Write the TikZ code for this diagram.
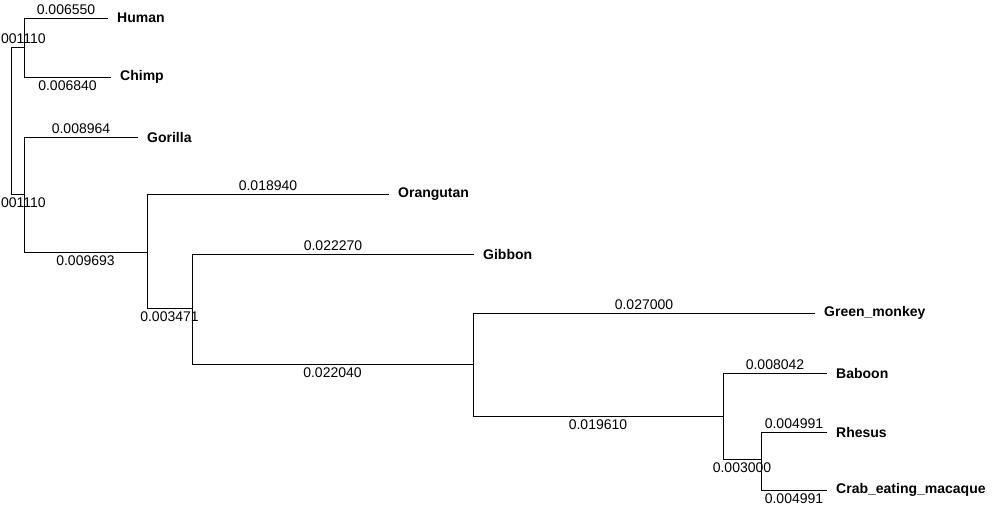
\documentclass[tikz,border=0pt]{standalone}
\usepackage{fontspec}
\setmainfont{Liberation Sans}
\begin{document}
\begin{tikzpicture}[x=1pt,y=-1pt,
  branch/.style={draw=black,line width=1pt},
  blen/.style={font=\fontsize{14}{14}\selectfont,inner sep=0pt},
  up/.style={blen,anchor=south,yshift=2.5pt},
  dn/.style={blen,anchor=north,yshift=-3pt},
  leaf/.style={font=\bfseries\fontsize{14}{14}\selectfont,anchor=west,inner sep=0pt,xshift=9pt}]
\useasboundingbox[fill=white] (0,0) rectangle (1000,512);
% internal nodes
\coordinate (root) at (11,120);
\coordinate (hc) at (24,47);
\coordinate (g) at (24,194);
\coordinate (og) at (147,252);
\coordinate (gm) at (192,308);
\coordinate (ow) at (473,364);
\coordinate (bm) at (723,416);
\coordinate (m) at (761,459);
% leaves
\coordinate (human) at (108,18);
\coordinate (chimp) at (111,77);
\coordinate (gorilla) at (138,137);
\coordinate (orang) at (389,194);
\coordinate (gibbon) at (474,254);
\coordinate (green) at (815,313);
\coordinate (baboon) at (827,373);
\coordinate (rhesus) at (827,432);
\coordinate (crab) at (827,490);
% branches
\path[branch] (root) |- (hc) node[up,pos=0.75] {0.001110};
\path[branch] (root) |- (g) node[dn,pos=0.75] {0.001110};
\path[branch] (hc) |- (human) node[up,pos=0.75] {0.006550};
\path[branch] (hc) |- (chimp) node[dn,pos=0.75] {0.006840};
\path[branch] (g) |- (gorilla) node[up,pos=0.75] {0.008964};
\path[branch] (g) |- (og) node[dn,pos=0.75] {0.009693};
\path[branch] (og) |- (orang) node[up,pos=0.75] {0.018940};
\path[branch] (og) |- (gm) node[dn,pos=0.75] {0.003471};
\path[branch] (gm) |- (gibbon) node[up,pos=0.75] {0.022270};
\path[branch] (gm) |- (ow) node[dn,pos=0.75] {0.022040};
\path[branch] (ow) |- (green) node[up,pos=0.75] {0.027000};
\path[branch] (ow) |- (bm) node[dn,pos=0.75] {0.019610};
\path[branch] (bm) |- (baboon) node[up,pos=0.75] {0.008042};
\path[branch] (bm) |- (m) node[dn,pos=0.75] {0.003000};
\path[branch] (m) |- (rhesus) node[up,pos=0.75] {0.004991};
\path[branch] (m) |- (crab) node[dn,pos=0.75] {0.004991};
% leaf names
\node[leaf] (lhuman) at (human) {Human};
\node[leaf] (lchimp) at (chimp) {Chimp};
\node[leaf] (lgorilla) at (gorilla) {Gorilla};
\node[leaf] (lorang) at (orang) {Orangutan};
\node[leaf] (lgibbon) at (gibbon) {Gibbon};
\node[leaf] (lgreen) at (green) {Green\_monkey};
\node[leaf] (lbaboon) at (baboon) {Baboon};
\node[leaf] (lrhesus) at (rhesus) {Rhesus};
\node[leaf] (lcrab) at (crab) {Crab\_eating\_macaque};
\end{tikzpicture}
\end{document}
